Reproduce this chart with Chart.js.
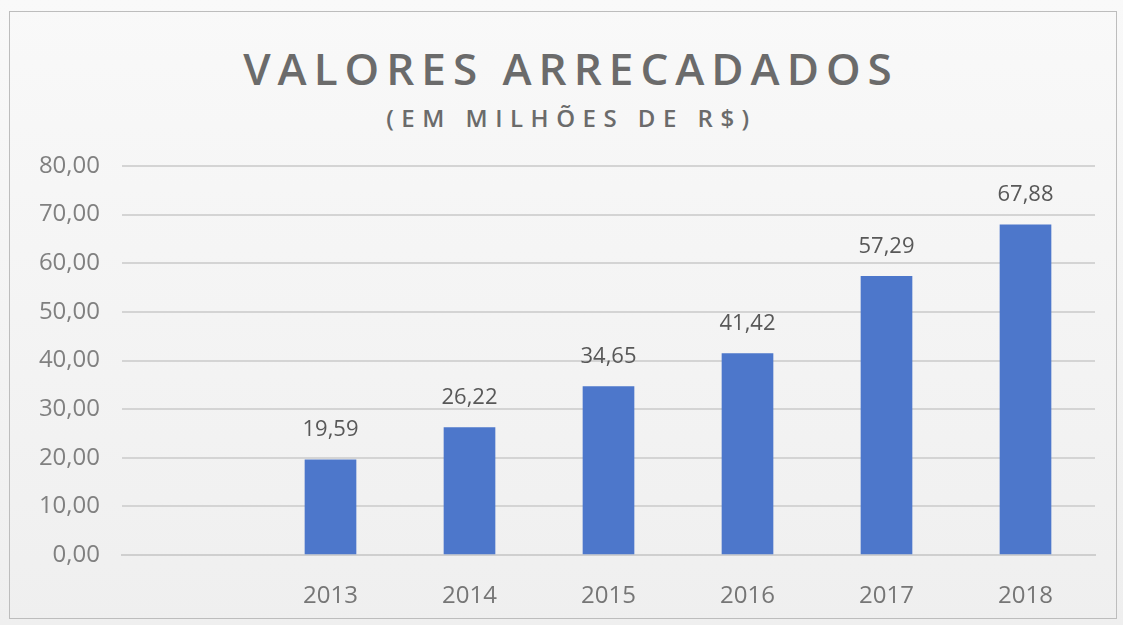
<!DOCTYPE html>
<html>
<head>
<meta charset="utf-8">
<script src="https://cdn.jsdelivr.net/npm/chart.js@4"></script>
<style>
  html, body { margin: 0; padding: 0; }
  body {
    width: 1123px; height: 625px; overflow: hidden; position: relative;
    background: linear-gradient(180deg, #f9f9f9, #efefef);
    font-family: "Open Sans", sans-serif;
  }
  .frame { position: absolute; left: 9px; top: 11px; width: 1106px; height: 606px; border: 1px solid #bdbdbd; }
  .title { position: absolute; left: 0; width: 1123px; text-align: center; color: #6b6b6b; white-space: nowrap; font-weight: 600; box-sizing: border-box; }
  #t1 { top: 46px; font-size: 44px; line-height: 44px; letter-spacing: 7px; padding-left: 19px; }
  #t2 { top: 106px; font-size: 24px; line-height: 24px; letter-spacing: 7.5px; padding-left: 20px; }
  canvas { position: absolute; left: 0; top: 0; }
</style>
</head>
<body>
<div class="frame"></div>
<div class="title" id="t1">VALORES ARRECADADOS</div>
<div class="title" id="t2">(EM MILHÕES DE R$)</div>
<canvas id="chart" width="1123" height="625"></canvas>
<script>
// dados do gráfico (primeira coluna vazia como no original)
const categories = ["", "2013", "2014", "2015", "2016", "2017", "2018"];
const values = [null, 19.59, 26.22, 34.65, 41.42, 57.29, 67.88];
const yTicks = [0, 10, 20, 30, 40, 50, 60, 70, 80];

const fmt = v => v.toFixed(2).replace(".", ",");

// rótulos acima das barras
const valueLabels = {
  id: "valueLabels",
  afterDatasetsDraw(chart) {
    const ctx = chart.ctx;
    const meta = chart.getDatasetMeta(0);
    ctx.save();
    ctx.font = '22px "Open Sans"';
    ctx.fillStyle = "#585858";
    ctx.textAlign = "center";
    ctx.textBaseline = "middle";
    meta.data.forEach((bar, i) => {
      if (values[i] == null) return;
      ctx.fillText(fmt(values[i]), bar.x, bar.y - 30);
    });
    ctx.restore();
  }
};

new Chart(document.getElementById("chart"), {
  type: "bar",
  data: {
    labels: categories,
    datasets: [{
      data: values,
      backgroundColor: "#4d77cb",
      borderWidth: 0,
      barThickness: 51
    }]
  },
  options: {
    responsive: false,
    animation: false,
    layout: { padding: { top: 166, right: 28, bottom: 0, left: 0 } },
    plugins: {
      legend: { display: false },
      tooltip: { enabled: false }
    },
    scales: {
      x: {
        grid: { display: false },
        border: { display: true, color: "#cfcfcf", width: 2 },
        ticks: {
          padding: 19,
          color: "#767676",
          font: { family: "Open Sans", size: 24 }
        },
        afterFit: s => { s.height = 70; }
      },
      y: {
        min: 0,
        max: 80,
        afterBuildTicks: s => { s.ticks = yTicks.map(v => ({ value: v })); },
        grid: { color: "#d4d4d4", lineWidth: 2, drawTicks: false },
        border: { display: false },
        ticks: {
          padding: 22,
          color: "#808080",
          font: { family: "Open Sans", size: 24 },
          callback: v => fmt(v)
        },
        afterFit: s => { s.width = 122; }
      }
    }
  },
  plugins: [valueLabels]
});
</script>
</body>
</html>
